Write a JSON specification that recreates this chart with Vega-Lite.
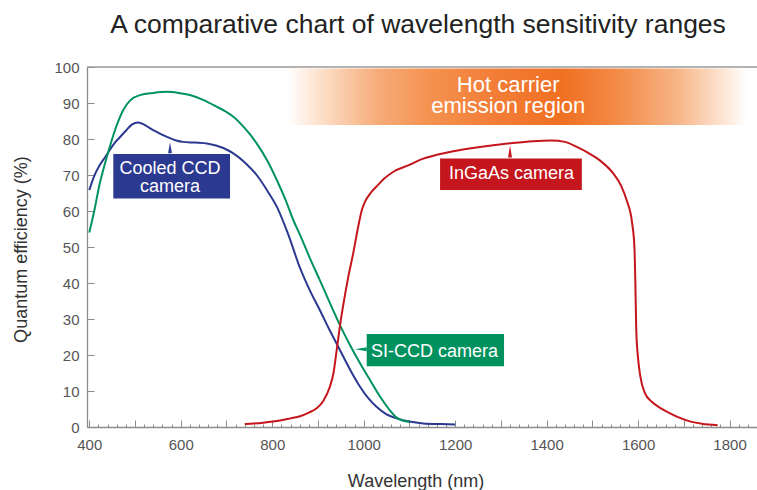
{
  "$schema": "https://vega.github.io/schema/vega-lite/v6.json",
  "width": 670,
  "height": 360,
  "autosize": {"type": "none"},
  "padding": {"left": 87, "top": 67, "right": 0, "bottom": 63},
  "background": "white",
  "title": {
    "text": "A comparative chart of wavelength sensitivity ranges",
    "font": "Liberation Sans",
    "fontSize": 26.5,
    "fontWeight": "normal",
    "color": "#222222",
    "anchor": "middle",
    "frame": "group",
    "offset": 22,
    "dx": -4
  },
  "config": {
    "view": {"stroke": null},
    "axis": {
      "grid": false,
      "labelFont": "Liberation Sans",
      "titleFont": "Liberation Sans",
      "labelFontSize": 15,
      "titleFontSize": 18,
      "titleFontWeight": "normal",
      "labelColor": "#555555",
      "titleColor": "#333333",
      "domainColor": "#8c8c8c",
      "tickColor": "#8c8c8c",
      "domainWidth": 1.3,
      "tickWidth": 1
    }
  },
  "datasets": {
    "curves": [
      {"camera": "Cooled CCD camera", "nm": 400, "qe": 65.8},
      {"camera": "Cooled CCD camera", "nm": 410, "qe": 69.5},
      {"camera": "Cooled CCD camera", "nm": 423, "qe": 72.8},
      {"camera": "Cooled CCD camera", "nm": 435, "qe": 75},
      {"camera": "Cooled CCD camera", "nm": 445, "qe": 77},
      {"camera": "Cooled CCD camera", "nm": 456, "qe": 79},
      {"camera": "Cooled CCD camera", "nm": 467, "qe": 80.5},
      {"camera": "Cooled CCD camera", "nm": 480, "qe": 82.3},
      {"camera": "Cooled CCD camera", "nm": 493, "qe": 84},
      {"camera": "Cooled CCD camera", "nm": 507, "qe": 84.6},
      {"camera": "Cooled CCD camera", "nm": 520, "qe": 84},
      {"camera": "Cooled CCD camera", "nm": 535, "qe": 82.8},
      {"camera": "Cooled CCD camera", "nm": 550, "qe": 81.8},
      {"camera": "Cooled CCD camera", "nm": 570, "qe": 80.6},
      {"camera": "Cooled CCD camera", "nm": 590, "qe": 79.6},
      {"camera": "Cooled CCD camera", "nm": 605, "qe": 79.2},
      {"camera": "Cooled CCD camera", "nm": 630, "qe": 79},
      {"camera": "Cooled CCD camera", "nm": 660, "qe": 78.7},
      {"camera": "Cooled CCD camera", "nm": 693, "qe": 77.5},
      {"camera": "Cooled CCD camera", "nm": 715, "qe": 76},
      {"camera": "Cooled CCD camera", "nm": 740, "qe": 73.5},
      {"camera": "Cooled CCD camera", "nm": 766, "qe": 70},
      {"camera": "Cooled CCD camera", "nm": 790, "qe": 65.5},
      {"camera": "Cooled CCD camera", "nm": 810, "qe": 61.2},
      {"camera": "Cooled CCD camera", "nm": 835, "qe": 53.5},
      {"camera": "Cooled CCD camera", "nm": 861, "qe": 44.1},
      {"camera": "Cooled CCD camera", "nm": 882, "qe": 38},
      {"camera": "Cooled CCD camera", "nm": 904, "qe": 32.5},
      {"camera": "Cooled CCD camera", "nm": 926, "qe": 26.8},
      {"camera": "Cooled CCD camera", "nm": 948, "qe": 21.4},
      {"camera": "Cooled CCD camera", "nm": 970, "qe": 16},
      {"camera": "Cooled CCD camera", "nm": 992, "qe": 11.2},
      {"camera": "Cooled CCD camera", "nm": 1010, "qe": 8},
      {"camera": "Cooled CCD camera", "nm": 1028, "qe": 5.6},
      {"camera": "Cooled CCD camera", "nm": 1050, "qe": 3.5},
      {"camera": "Cooled CCD camera", "nm": 1072, "qe": 2.4},
      {"camera": "Cooled CCD camera", "nm": 1100, "qe": 1.5},
      {"camera": "Cooled CCD camera", "nm": 1130, "qe": 1},
      {"camera": "Cooled CCD camera", "nm": 1170, "qe": 0.8},
      {"camera": "Cooled CCD camera", "nm": 1200, "qe": 0.7},
      {"camera": "SI-CCD camera", "nm": 400, "qe": 54},
      {"camera": "SI-CCD camera", "nm": 410, "qe": 59.5},
      {"camera": "SI-CCD camera", "nm": 423, "qe": 67.7},
      {"camera": "SI-CCD camera", "nm": 435, "qe": 73.5},
      {"camera": "SI-CCD camera", "nm": 445, "qe": 77.9},
      {"camera": "SI-CCD camera", "nm": 455, "qe": 82},
      {"camera": "SI-CCD camera", "nm": 463, "qe": 84.8},
      {"camera": "SI-CCD camera", "nm": 474, "qe": 88},
      {"camera": "SI-CCD camera", "nm": 490, "qe": 90.8},
      {"camera": "SI-CCD camera", "nm": 511, "qe": 92.2},
      {"camera": "SI-CCD camera", "nm": 540, "qe": 92.8},
      {"camera": "SI-CCD camera", "nm": 569, "qe": 93.1},
      {"camera": "SI-CCD camera", "nm": 595, "qe": 92.8},
      {"camera": "SI-CCD camera", "nm": 620, "qe": 92.2},
      {"camera": "SI-CCD camera", "nm": 650, "qe": 90.8},
      {"camera": "SI-CCD camera", "nm": 678, "qe": 89},
      {"camera": "SI-CCD camera", "nm": 700, "qe": 87.5},
      {"camera": "SI-CCD camera", "nm": 715, "qe": 86.2},
      {"camera": "SI-CCD camera", "nm": 740, "qe": 83},
      {"camera": "SI-CCD camera", "nm": 766, "qe": 78.8},
      {"camera": "SI-CCD camera", "nm": 790, "qe": 73.8},
      {"camera": "SI-CCD camera", "nm": 810, "qe": 68.6},
      {"camera": "SI-CCD camera", "nm": 830, "qe": 62.8},
      {"camera": "SI-CCD camera", "nm": 846, "qe": 57.5},
      {"camera": "SI-CCD camera", "nm": 861, "qe": 53.3},
      {"camera": "SI-CCD camera", "nm": 882, "qe": 47},
      {"camera": "SI-CCD camera", "nm": 904, "qe": 40.8},
      {"camera": "SI-CCD camera", "nm": 926, "qe": 34.5},
      {"camera": "SI-CCD camera", "nm": 948, "qe": 28.3},
      {"camera": "SI-CCD camera", "nm": 970, "qe": 22.8},
      {"camera": "SI-CCD camera", "nm": 992, "qe": 17.7},
      {"camera": "SI-CCD camera", "nm": 1015, "qe": 12.8},
      {"camera": "SI-CCD camera", "nm": 1036, "qe": 8.4},
      {"camera": "SI-CCD camera", "nm": 1055, "qe": 5},
      {"camera": "SI-CCD camera", "nm": 1072, "qe": 2.6},
      {"camera": "SI-CCD camera", "nm": 1085, "qe": 1.8},
      {"camera": "SI-CCD camera", "nm": 1100, "qe": 1.4},
      {"camera": "InGaAs camera", "nm": 740, "qe": 0.8},
      {"camera": "InGaAs camera", "nm": 780, "qe": 1.2},
      {"camera": "InGaAs camera", "nm": 817, "qe": 1.8},
      {"camera": "InGaAs camera", "nm": 840, "qe": 2.4},
      {"camera": "InGaAs camera", "nm": 861, "qe": 3},
      {"camera": "InGaAs camera", "nm": 880, "qe": 4},
      {"camera": "InGaAs camera", "nm": 897, "qe": 5.2},
      {"camera": "InGaAs camera", "nm": 912, "qe": 7.3},
      {"camera": "InGaAs camera", "nm": 926, "qe": 11.2},
      {"camera": "InGaAs camera", "nm": 934, "qe": 15},
      {"camera": "InGaAs camera", "nm": 941, "qe": 21.4},
      {"camera": "InGaAs camera", "nm": 948, "qe": 28},
      {"camera": "InGaAs camera", "nm": 956, "qe": 34.4},
      {"camera": "InGaAs camera", "nm": 966, "qe": 41.5},
      {"camera": "InGaAs camera", "nm": 977, "qe": 48.2},
      {"camera": "InGaAs camera", "nm": 987, "qe": 55},
      {"camera": "InGaAs camera", "nm": 996, "qe": 60.3},
      {"camera": "InGaAs camera", "nm": 1003, "qe": 62.6},
      {"camera": "InGaAs camera", "nm": 1015, "qe": 65},
      {"camera": "InGaAs camera", "nm": 1028, "qe": 66.8},
      {"camera": "InGaAs camera", "nm": 1045, "qe": 69},
      {"camera": "InGaAs camera", "nm": 1065, "qe": 70.9},
      {"camera": "InGaAs camera", "nm": 1100, "qe": 72.8},
      {"camera": "InGaAs camera", "nm": 1123, "qe": 74.2},
      {"camera": "InGaAs camera", "nm": 1160, "qe": 75.6},
      {"camera": "InGaAs camera", "nm": 1196, "qe": 76.6},
      {"camera": "InGaAs camera", "nm": 1250, "qe": 77.7},
      {"camera": "InGaAs camera", "nm": 1320, "qe": 78.8},
      {"camera": "InGaAs camera", "nm": 1370, "qe": 79.4},
      {"camera": "InGaAs camera", "nm": 1410, "qe": 79.6},
      {"camera": "InGaAs camera", "nm": 1440, "qe": 79.2},
      {"camera": "InGaAs camera", "nm": 1466, "qe": 77.8},
      {"camera": "InGaAs camera", "nm": 1490, "qe": 76.2},
      {"camera": "InGaAs camera", "nm": 1517, "qe": 74},
      {"camera": "InGaAs camera", "nm": 1546, "qe": 70.4},
      {"camera": "InGaAs camera", "nm": 1563, "qe": 67},
      {"camera": "InGaAs camera", "nm": 1575, "qe": 63},
      {"camera": "InGaAs camera", "nm": 1587, "qe": 56.6},
      {"camera": "InGaAs camera", "nm": 1592, "qe": 50},
      {"camera": "InGaAs camera", "nm": 1594, "qe": 40},
      {"camera": "InGaAs camera", "nm": 1596, "qe": 27},
      {"camera": "InGaAs camera", "nm": 1600, "qe": 19},
      {"camera": "InGaAs camera", "nm": 1605, "qe": 14},
      {"camera": "InGaAs camera", "nm": 1615, "qe": 9.4},
      {"camera": "InGaAs camera", "nm": 1630, "qe": 7},
      {"camera": "InGaAs camera", "nm": 1650, "qe": 5.2},
      {"camera": "InGaAs camera", "nm": 1670, "qe": 3.8},
      {"camera": "InGaAs camera", "nm": 1690, "qe": 2.6},
      {"camera": "InGaAs camera", "nm": 1715, "qe": 1.5},
      {"camera": "InGaAs camera", "nm": 1740, "qe": 0.9},
      {"camera": "InGaAs camera", "nm": 1774, "qe": 0.5}
    ],
    "boxes": [
      {"camera": "Cooled CCD camera", "nm": 452.5, "nm2": 707.7, "qe": 63.5, "qe2": 75.8},
      {"camera": "SI-CCD camera", "nm": 1006.6, "nm2": 1306.9, "qe": 16.9, "qe2": 25.8},
      {"camera": "InGaAs camera", "nm": 1167, "nm2": 1477, "qe": 65.8, "qe2": 74.6}
    ],
    "pointers": [
      {"camera": "Cooled CCD camera", "nm": 576.5, "qe": 77.6},
      {"camera": "SI-CCD camera", "nm": 994, "qe": 21.6},
      {"camera": "InGaAs camera", "nm": 1320, "qe": 76.5}
    ],
    "labels": [
      {"label": "Cooled CCD", "nm": 576.5, "qe": 70.2},
      {"label": "camera", "nm": 576.5, "qe": 65.4},
      {"label": "SI-CCD camera", "nm": 1155, "qe": 19.4},
      {"label": "InGaAs camera", "nm": 1323, "qe": 68.8}
    ],
    "band": [
      {"nm": 832, "nm2": 1838, "qe": 83.9, "qe2": 99.6}
    ],
    "border": [
      {"nm": 395, "nm2": 1860, "qe": 100}
    ],
    "bandText": [
      {"label": "Hot carrier", "nm": 1316, "qe": 93.0},
      {"label": "emission region", "nm": 1316, "qe": 87.1}
    ]
  },
  "layer": [
    {
      "encoding": {
        "x": {
          "field": "nm",
          "type": "quantitative",
          "scale": {"domain": [395, 1860], "nice": false, "zero": false},
          "axis": {
            "title": "Wavelength (nm)",
            "orient": "bottom",
            "tickCount": 15,
            "format": "d",
            "labelExpr": "datum.value % 200 === 0 ? datum.label : ''",
            "labelFontSize": 15,
            "labelFont": "Liberation Sans",
            "labelColor": "#555555",
            "tickSize": -7,
            "labelPadding": 17,
            "labelFlush": false,
            "titleX": 328.5,
            "titleY": 59,
            "titleBaseline": "alphabetic"
          }
        },
        "y": {
          "field": "qe",
          "type": "quantitative",
          "scale": {"domain": [0, 100], "nice": false},
          "axis": {
            "title": "Quantum efficiency (%)",
            "values": [0, 10, 20, 30, 40, 50, 60, 70, 80, 90, 100],
            "labelFontSize": 15,
            "labelFont": "Liberation Sans",
            "labelColor": "#555555",
            "tickSize": -7,
            "labelPadding": 15,
            "labelFlush": false,
            "titleX": -61,
            "titleY": 182,
            "titleBaseline": "alphabetic",
            "titleAngle": -90,
            "titleAlign": "center"
          }
        }
      },
      "layer": [
        {
          "data": {"name": "band"},
          "mark": {
            "type": "rect",
            "color": {
              "gradient": "linear",
              "x1": 0, "y1": 0, "x2": 1, "y2": 0,
              "stops": [
                {"offset": 0, "color": "#ffffff"},
                {"offset": 0.09, "color": "#fcd9bf"},
                {"offset": 0.2, "color": "#f6ab78"},
                {"offset": 0.31, "color": "#f4924f"},
                {"offset": 0.46, "color": "#f27c36"},
                {"offset": 0.6, "color": "#f07022"},
                {"offset": 0.72, "color": "#f28b48"},
                {"offset": 0.85, "color": "#f7b587"},
                {"offset": 0.95, "color": "#fde6d5"},
                {"offset": 1, "color": "#ffffff"}
              ]
            }
          },
          "encoding": {
            "x2": {"field": "nm2"},
            "y2": {"field": "qe2"}
          }
        },
        {
          "data": {"name": "border"},
          "mark": {"type": "rule", "color": "#9a9a9a", "strokeWidth": 1.3},
          "encoding": {
            "x2": {"field": "nm2"}
          }
        },
        {
          "data": {"name": "curves"},
          "mark": {"type": "line", "interpolate": "monotone", "strokeWidth": 2},
          "encoding": {
            "color": {
              "field": "camera",
              "type": "nominal",
              "scale": {
                "domain": ["Cooled CCD camera", "SI-CCD camera", "InGaAs camera"],
                "range": ["#2b3990", "#00925e", "#c4161c"]
              },
              "legend": null
            }
          }
        },
        {
          "data": {"name": "boxes"},
          "mark": {"type": "rect"},
          "encoding": {
            "x2": {"field": "nm2"},
            "y2": {"field": "qe2"},
            "color": {"field": "camera", "type": "nominal", "legend": null}
          }
        },
        {
          "data": {"name": "pointers"},
          "mark": {"type": "point", "filled": true, "opacity": 1, "strokeWidth": 0},
          "encoding": {
            "color": {"field": "camera", "type": "nominal", "legend": null},
            "shape": {
              "field": "camera",
              "type": "nominal",
              "scale": {
                "domain": ["Cooled CCD camera", "SI-CCD camera", "InGaAs camera"],
                "range": ["M-0.35,1L0,-1L0.35,1Z", "M1,-0.35L-1,0L1,0.35Z", "M-0.33,1L0,-1L0.33,1Z"]
              },
              "legend": null
            },
            "size": {
              "field": "camera",
              "type": "nominal",
              "scale": {
                "domain": ["Cooled CCD camera", "SI-CCD camera", "InGaAs camera"],
                "range": [121, 144, 169]
              },
              "legend": null
            }
          }
        },
        {
          "data": {"name": "labels"},
          "mark": {"type": "text", "color": "#ffffff", "font": "Liberation Sans", "fontSize": 18, "baseline": "alphabetic", "align": "center"},
          "encoding": {
            "text": {"field": "label"}
          }
        },
        {
          "data": {"name": "bandText"},
          "mark": {"type": "text", "color": "#ffffff", "font": "Liberation Sans", "fontSize": 22, "baseline": "alphabetic", "align": "center"},
          "encoding": {
            "text": {"field": "label"}
          }
        }
      ]
    },
    {
      "data": {"name": "band"},
      "mark": {"type": "point", "opacity": 0},
      "encoding": {
        "x": {
          "field": "nm",
          "type": "quantitative",
          "scale": {"domain": [395, 1860], "nice": false, "zero": false},
          "axis": {
            "orient": "top",
            "offset": -360,
            "domain": false,
            "labels": false,
            "title": null,
            "tickCount": 73,
            "tickSize": 3
          }
        }
      }
    }
  ],
  "resolve": {"scale": {"x": "independent"}}
}
